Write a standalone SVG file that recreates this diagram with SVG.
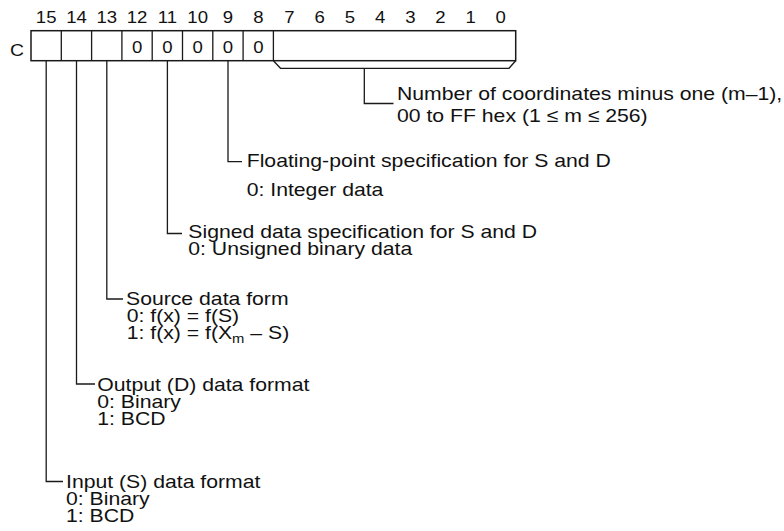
<svg xmlns="http://www.w3.org/2000/svg" width="784" height="531" viewBox="0 0 784 531">
<style>
  .t { font-family: "Liberation Sans", Arial, Helvetica, sans-serif; font-size: 18.6px; fill: #111; }
  .b { font-family: "Liberation Sans", Arial, Helvetica, sans-serif; font-size: 16.3px; fill: #111; text-anchor: middle; }
  .ln { fill: none; stroke: #1a1a1a; stroke-width: 1.3; }
  .box { fill: #fff; stroke: #1a1a1a; stroke-width: 1.5; }
</style>
<rect width="784" height="531" fill="#fff"/>
<g id="bit-labels">
  <text class="b" transform="translate(46.2 22.7) scale(1.14 1)">15</text>
  <text class="b" transform="translate(76.5 22.7) scale(1.14 1)">14</text>
  <text class="b" transform="translate(106.8 22.7) scale(1.14 1)">13</text>
  <text class="b" transform="translate(137.1 22.7) scale(1.14 1)">12</text>
  <text class="b" transform="translate(167.4 22.7) scale(1.14 1)">11</text>
  <text class="b" transform="translate(197.7 22.7) scale(1.14 1)">10</text>
  <text class="b" transform="translate(228 22.7) scale(1.14 1)">9</text>
  <text class="b" transform="translate(258.3 22.7) scale(1.14 1)">8</text>
  <text class="b" transform="translate(289.5 22.7) scale(1.14 1)">7</text>
  <text class="b" transform="translate(319.7 22.7) scale(1.14 1)">6</text>
  <text class="b" transform="translate(349.9 22.7) scale(1.14 1)">5</text>
  <text class="b" transform="translate(380.1 22.7) scale(1.14 1)">4</text>
  <text class="b" transform="translate(410.3 22.7) scale(1.14 1)">3</text>
  <text class="b" transform="translate(440.5 22.7) scale(1.14 1)">2</text>
  <text class="b" transform="translate(470.7 22.7) scale(1.14 1)">1</text>
  <text class="b" transform="translate(500.7 22.7) scale(1.14 1)">0</text>
</g>
<g id="register">
  <text class="b" transform="translate(17 56) scale(1.14 1)" style="font-size:17px">C</text>
  <rect class="box" x="31" y="30.7" width="484.7" height="30"/>
  <path class="ln" d="M61.3 30.7V60.7M91.6 30.7V60.7M121.9 30.7V60.7M152.2 30.7V60.7M182.5 30.7V60.7M212.8 30.7V60.7M243.1 30.7V60.7M273.4 30.7V60.7"/>
  <text class="b" transform="translate(137.1 53.3) scale(1.14 1)">0</text>
  <text class="b" transform="translate(167.4 53.3) scale(1.14 1)">0</text>
  <text class="b" transform="translate(197.7 53.3) scale(1.14 1)">0</text>
  <text class="b" transform="translate(228 53.3) scale(1.14 1)">0</text>
  <text class="b" transform="translate(258.3 53.3) scale(1.14 1)">0</text>
</g>
<g id="connectors">
  <path class="ln" d="M273.4 60.7L280.5 68.3H509L515.7 60.7"/>
  <path class="ln" d="M364.3 68.3V103.5H393.5"/>
  <path class="ln" d="M228 60.7V161.7H242"/>
  <path class="ln" d="M167.4 60.7V233.5H182"/>
  <path class="ln" d="M106.8 60.7V299H123"/>
  <path class="ln" d="M76.5 60.7V384H95"/>
  <path class="ln" d="M46.2 60.7V481.5H63"/>
</g>
<g id="label-count">
  <text class="t" transform="translate(397 99.5) scale(1.14 1)">Number of coordinates minus one (m–1),</text>
  <text class="t" transform="translate(397 121.5) scale(1.14 1)">00 to FF hex (1 ≤ m ≤ 256)</text>
</g>
<g id="label-float">
  <text class="t" transform="translate(246.7 166.5) scale(1.14 1)">Floating-point specification for S and D</text>
  <text class="t" transform="translate(246.7 195.5) scale(1.14 1)">0: Integer data</text>
</g>
<g id="label-signed">
  <text class="t" transform="translate(188.3 237.8) scale(1.14 1)">Signed data specification for S and D</text>
  <text class="t" transform="translate(188.3 254.5) scale(1.14 1)">0: Unsigned binary data</text>
</g>
<g id="label-source">
  <text class="t" transform="translate(126 304.5) scale(1.14 1)">Source data form</text>
  <text class="t" transform="translate(126.7 321.5) scale(1.14 1)">0: f(x) = f(S)</text>
  <text class="t" transform="translate(126.7 338.5) scale(1.14 1)">1: f(x) = f(X<tspan dy="4" style="font-size:13px">m</tspan><tspan dy="-4"> – S)</tspan></text>
</g>
<g id="label-output">
  <text class="t" transform="translate(97.3 390.5) scale(1.14 1)">Output (D) data format</text>
  <text class="t" transform="translate(97.3 407.5) scale(1.14 1)">0: Binary</text>
  <text class="t" transform="translate(97.3 424.5) scale(1.14 1)">1: BCD</text>
</g>
<g id="label-input">
  <text class="t" transform="translate(66 487.5) scale(1.14 1)">Input (S) data format</text>
  <text class="t" transform="translate(66 504.5) scale(1.14 1)">0: Binary</text>
  <text class="t" transform="translate(66 521.5) scale(1.14 1)">1: BCD</text>
</g>
</svg>
